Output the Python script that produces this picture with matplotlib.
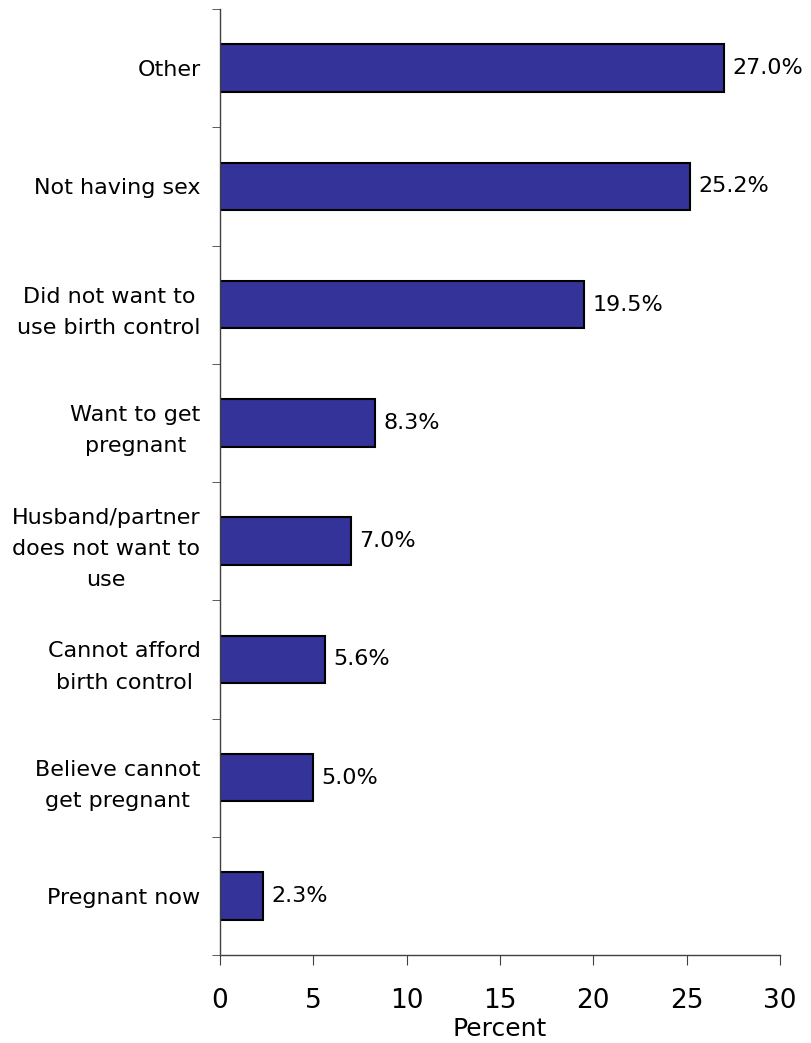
import matplotlib
matplotlib.use("Agg")
import matplotlib.pyplot as plt
import numpy as np

categories = [
    "Other",
    "Not having sex",
    "Did not want to\nuse birth control",
    "Want to get\npregnant",
    "Husband/partner\ndoes not want to\nuse",
    "Cannot afford\nbirth control",
    "Believe cannot\nget pregnant",
    "Pregnant now",
]
values = [27.0, 25.2, 19.5, 8.3, 7.0, 5.6, 5.0, 2.3]
xticks = [0, 5, 10, 15, 20, 25, 30]

plt.rcParams['font.family'] = ['DejaVu Sans']

fig = plt.figure(figsize=(8.11, 10.43), dpi=100)
ax = fig.add_axes([220 / 811, 1 - 955 / 1043, 560 / 811, 946 / 1043])

n = len(categories)
y = np.arange(n)
ax.barh(y, values, height=0.4, color='#333399', edgecolor='black', linewidth=1.5)
ax.set_ylim(n - 0.5, -0.5)
ax.set_xlim(0, 30)

for yi, v in zip(y, values):
    ax.annotate(f"{v:.1f}%", (v, yi), xytext=(6, 0), textcoords='offset points',
                va='center', ha='left', fontsize=16)

ax.set_yticks(y)
ax.set_yticklabels(categories, fontsize=16, ha='right', multialignment='center',
                   linespacing=1.7)
ax.set_yticks(np.arange(-0.5, n, 1), minor=True)
ax.tick_params(axis='y', which='major', length=0, pad=14)
ax.tick_params(axis='y', which='minor', length=6, direction='out', color='#404040')

ax.set_xticks(xticks)
ax.set_xticklabels([str(t) for t in xticks], fontsize=19)
ax.tick_params(axis='x', length=7, direction='out', color='#404040', pad=17)
ax.set_xlabel("Percent", fontsize=18, labelpad=2)

for s in ['top', 'right']:
    ax.spines[s].set_visible(False)
for s in ['left', 'bottom']:
    ax.spines[s].set_color('#404040')
    ax.spines[s].set_linewidth(1.0)

fig.savefig("out.png", dpi=100)
